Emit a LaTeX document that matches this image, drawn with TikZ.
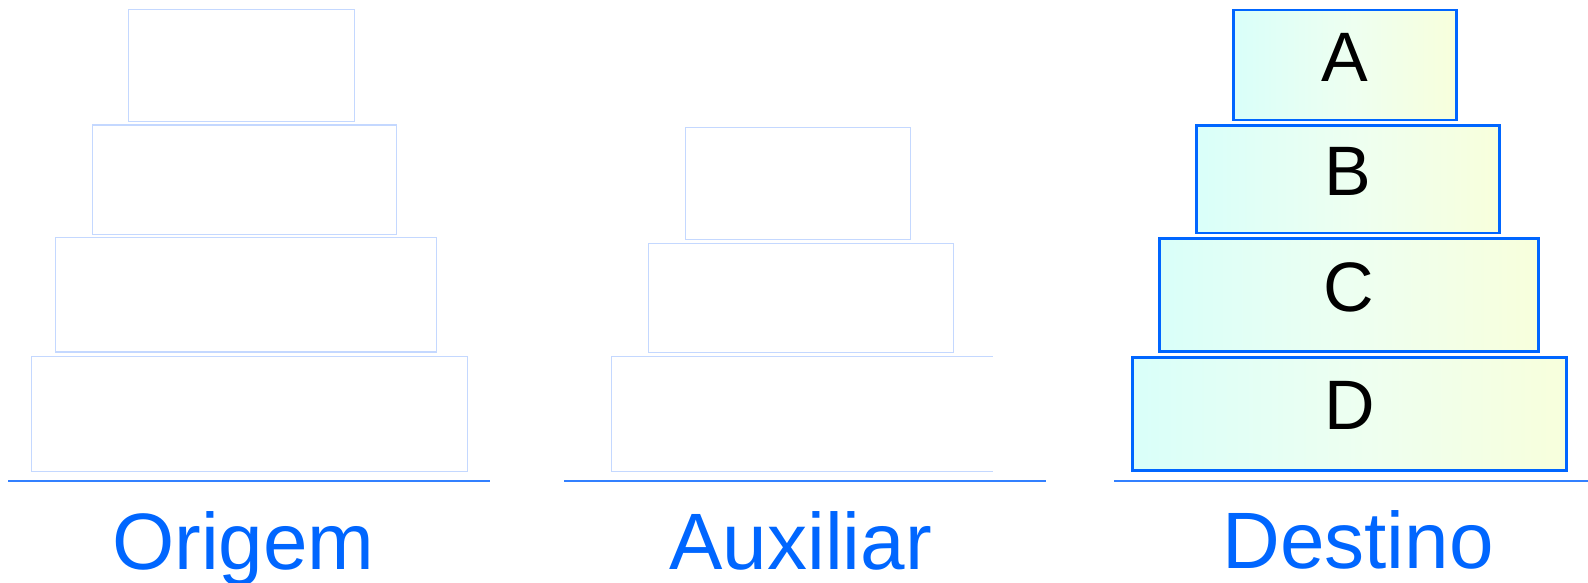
\documentclass[tikz,border=0pt]{standalone}
\usepackage{fontspec}
\setmainfont{Liberation Sans}
\definecolor{cL}{RGB}{204,255,255}
\definecolor{cM}{RGB}{238,255,240}
\definecolor{cR}{RGB}{255,255,204}
\definecolor{diskline}{RGB}{0,102,255}
\definecolor{ghost}{RGB}{196,216,255}
\definecolor{baseblue}{RGB}{51,128,255}
\definecolor{labelblue}{RGB}{0,102,255}
\pgfdeclarehorizontalshading{diskshade}{100bp}{color(0bp)=(cL); color(8bp)=(cL); color(52bp)=(cM); color(93bp)=(cR); color(100bp)=(cR)}
\begin{document}
\begin{tikzpicture}[x=1pt,y=-1pt,
  ghostdisk/.style={draw=ghost, line width=1.2pt, fill=white, inner sep=0pt},
  ghostline/.style={draw=ghost, line width=1.2pt},
  plain/.style={inner sep=0pt},
  disk/.style={draw=diskline, line width=2.6pt, shading=diskshade, inner sep=0pt,
    font=\fontsize{70}{80}\selectfont, text depth=16pt},
  towerbase/.style={draw=baseblue, line width=2.8pt},
  towerlabel/.style={text=labelblue, font=\fontsize{80}{90}\selectfont, anchor=base, inner sep=0pt}]
\useasboundingbox (0,0) rectangle (1588,583);
% Origem (ghost disks)
\node[ghostdisk, minimum width=225.6pt, minimum height=112pt]   (o1) at (241.5,65.3) {};
\node[ghostdisk, minimum width=304.4pt, minimum height=109.3pt] (o2) at (244.5,179.7) {};
\node[ghostdisk, minimum width=381.4pt, minimum height=114.7pt] (o3) at (246,294.7) {};
\node[ghostdisk, minimum width=436pt,   minimum height=115pt]   (o4) at (249.3,413.8) {};
% Auxiliar (ghost disks)
\node[ghostdisk, minimum width=225pt, minimum height=112pt] (x1) at (797.8,183.3) {};
\node[ghostdisk, minimum width=305pt, minimum height=109pt] (x2) at (800.8,297.8) {};
\node[plain, minimum width=381.4pt, minimum height=114.7pt] (x3) at (802,413.7) {};
\draw[ghostline] (x3.north east) -- (x3.north west) -- (x3.south west) -- (x3.south east);
% Destino disks
\node[disk, minimum width=223pt,   minimum height=110pt]   (dA) at (1344.8,65) {A};
\node[disk, minimum width=303pt,   minimum height=107.3pt] (dB) at (1347.8,179.4) {B};
\node[disk, minimum width=379pt,   minimum height=112.6pt] (dC) at (1349.2,295) {C};
\node[disk, minimum width=434.4pt, minimum height=113pt]   (dD) at (1349.5,413.8) {D};
% bases
\coordinate (oL) at (8,481);    \coordinate (oR) at (490,481);
\coordinate (xL) at (564,481);  \coordinate (xR) at (1046,481);
\coordinate (dL) at (1114,481); \coordinate (dR) at (1588,481);
\draw[towerbase] (oL) -- (oR);
\draw[towerbase] (xL) -- (xR);
\draw[towerbase] (dL) -- (dR);
% labels
\node[towerlabel] (lo) at (243.3,569.5) {Origem};
\node[towerlabel] (lx) at (800.6,569) {Auxiliar};
\node[towerlabel] (ld) at (1358,568) {Destino};
\end{tikzpicture}
\end{document}
